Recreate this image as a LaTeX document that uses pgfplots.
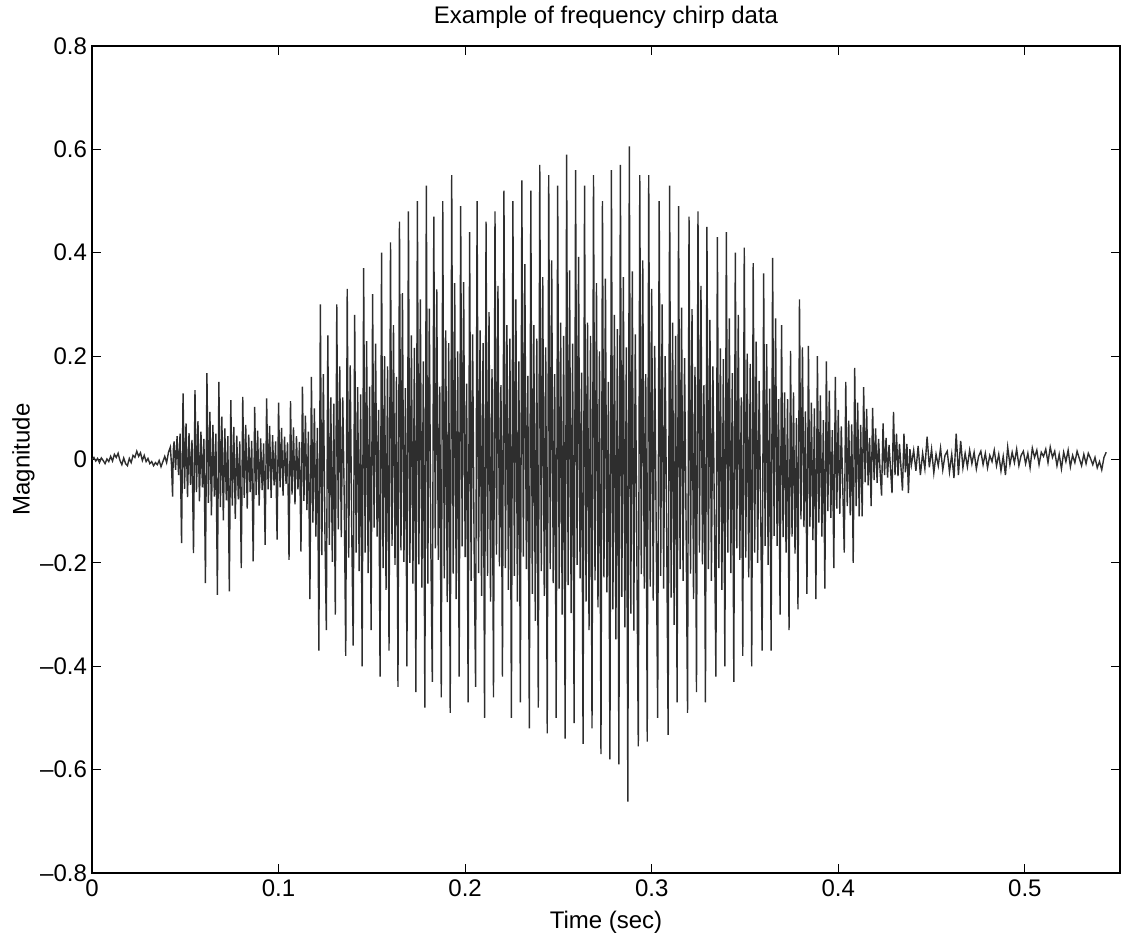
\documentclass[border=0pt]{standalone}
\usepackage{fontspec}
\setmainfont{Liberation Sans}
\usepackage{pgfplots}
\pgfplotsset{compat=1.18}
\begin{document}
\begin{tikzpicture}[font=\fontsize{12}{14}\selectfont]
\begin{axis}[
  scale only axis,
  width=514pt, height=413.5pt,
  xmin=0, xmax=0.551, ymin=-0.8, ymax=0.8,
  xtick={0,0.1,0.2,0.3,0.4,0.5},
  xticklabels={0,0.1,0.2,0.3,0.4,0.5},
  ytick={-0.8,-0.6,-0.4,-0.2,0,0.2,0.4,0.6,0.8},
  yticklabels={–0.8,–0.6,–0.4,–0.2,0,0.2,0.4,0.6,0.8},
  tick align=inside,
  major tick length=4.5pt,
  tick style={black, line width=0.6pt},
  axis line style={black, line width=0.8pt},
  xticklabel style={font=\fontsize{12}{14}\selectfont, yshift=0pt},
  yticklabel style={font=\fontsize{12}{14}\selectfont, xshift=1pt},
  xlabel={Time (sec)},
  ylabel={Magnitude},
  xlabel style={font=\fontsize{12}{14}\selectfont, yshift=0pt},
  ylabel style={font=\fontsize{12}{14}\selectfont, yshift=-4pt},
  title={Example of frequency chirp data},
  title style={font=\fontsize{12}{14}\selectfont, yshift=-1pt},
  clip=false,
]
\addplot[line width=0.7pt, color=black!82] coordinates {
(0.000,0.000)(0.001,0.004)(0.002,-0.003)(0.003,0.002)(0.004,-0.006)(0.005,0.003)(0.006,-0.002)(0.007,-0.008)(0.008,0.001)(0.009,-0.004)
(0.010,0.006)(0.011,-0.003)(0.012,0.010)(0.013,0.004)(0.014,0.012)(0.015,-0.002)(0.016,-0.010)(0.017,0.003)(0.018,-0.008)(0.019,-0.012)
(0.020,0.002)(0.021,-0.006)(0.022,0.008)(0.023,0.004)(0.024,0.016)(0.025,0.006)(0.026,0.013)(0.027,-0.002)(0.028,0.008)(0.029,-0.004)
(0.030,0.002)(0.031,-0.008)(0.032,-0.004)(0.033,-0.012)(0.034,-0.006)(0.035,-0.010)(0.036,-0.002)(0.037,-0.014)(0.038,-0.004)(0.039,0.006)
(0.040,-0.006)(0.041,0.014)(0.042,0.024)(0.0426,-0.010)(0.0432,-0.072)(0.0436,0.020)
(0.0440,0.035)(0.0448,-0.020)(0.0456,0.045)(0.0464,-0.030)(0.0472,0.050)(0.0480,-0.162)(0.0488,0.128)(0.0496,-0.057)(0.0504,0.070)(0.0512,-0.073)
(0.0520,0.051)(0.0528,-0.049)(0.0536,0.038)(0.0544,-0.181)(0.0552,0.134)(0.0560,-0.063)(0.0568,0.074)(0.0576,-0.081)(0.0584,0.054)(0.0592,-0.054)
(0.0600,0.040)(0.0608,-0.239)(0.0616,0.167)(0.0624,-0.084)(0.0632,0.092)(0.0640,-0.108)(0.0648,0.067)(0.0656,-0.072)(0.0664,0.050)(0.0672,-0.262)
(0.0680,0.150)(0.0688,-0.092)(0.0696,0.083)(0.0704,-0.118)(0.0712,0.060)(0.0720,-0.079)(0.0728,0.045)(0.0736,-0.255)(0.0744,0.115)(0.0752,-0.089)
(0.0760,0.063)(0.0768,-0.115)(0.0776,0.046)(0.0784,-0.077)(0.0792,0.035)(0.0800,-0.210)(0.0808,0.121)(0.0816,-0.074)(0.0824,0.067)(0.0832,-0.095)
(0.0840,0.048)(0.0848,-0.063)(0.0856,0.036)(0.0864,-0.197)(0.0872,0.102)(0.0880,-0.069)(0.0888,0.056)(0.0896,-0.089)(0.0904,0.041)(0.0912,-0.059)
(0.0920,0.031)(0.0928,-0.165)(0.0936,0.118)(0.0944,-0.058)(0.0952,0.065)(0.0960,-0.074)(0.0968,0.047)(0.0976,-0.050)(0.0984,0.035)(0.0992,-0.155)
(0.1000,0.110)(0.1008,-0.054)(0.1016,0.061)(0.1024,-0.070)(0.1032,0.044)(0.1040,-0.047)(0.1048,0.033)(0.1056,-0.194)(0.1064,0.113)(0.1072,-0.068)
(0.1080,0.062)(0.1088,-0.087)(0.1096,0.045)(0.1104,-0.058)(0.1112,0.034)(0.1120,-0.178)(0.1128,0.141)(0.1136,-0.080)(0.1144,0.085)(0.1152,-0.098)
(0.1160,0.054)(0.1168,-0.270)(0.1176,0.160)(0.1184,-0.122)(0.1192,0.099)(0.1200,-0.149)(0.1208,0.061)(0.1216,-0.370)(0.1224,0.300)(0.1232,-0.185)
(0.1240,0.165)(0.1248,-0.130)(0.1256,-0.330)(0.1264,0.240)(0.1272,-0.165)(0.1280,0.120)(0.1288,-0.198)(0.1296,0.108)(0.1304,-0.300)(0.1312,0.300)
(0.1320,-0.135)(0.1328,0.180)(0.1336,-0.150)(0.1344,0.120)(0.1352,-0.075)(0.1360,-0.380)(0.1368,0.330)(0.1376,-0.190)(0.1384,0.182)(0.1392,-0.133)
(0.1400,-0.360)(0.1408,0.280)(0.1416,-0.180)(0.1424,0.140)(0.1432,-0.216)(0.1440,0.126)(0.1448,-0.400)(0.1456,0.370)(0.1464,-0.180)(0.1472,0.229)
(0.1480,-0.220)(0.1488,0.141)(0.1496,-0.330)(0.1504,0.320)(0.1512,-0.132)(0.1520,0.224)(0.1528,-0.149)(0.1536,0.096)(0.1544,-0.420)(0.1552,0.400)
(0.1560,-0.210)(0.1568,0.200)(0.1576,-0.252)(0.1584,0.180)(0.1592,-0.370)(0.1600,0.420)(0.1608,-0.167)(0.1616,0.260)(0.1624,-0.204)(0.1632,0.160)
(0.1640,-0.440)(0.1648,0.460)(0.1656,-0.176)(0.1664,0.322)(0.1672,-0.198)(0.1680,0.138)(0.1688,-0.400)(0.1696,0.480)(0.1704,-0.200)(0.1712,0.240)
(0.1720,-0.240)(0.1728,0.216)(0.1736,-0.450)(0.1744,0.500)(0.1752,-0.203)(0.1760,0.310)(0.1768,-0.248)(0.1776,0.190)(0.1784,-0.480)(0.1792,0.530)
(0.1800,-0.240)(0.1808,0.292)(0.1816,-0.168)(0.1824,-0.430)(0.1832,0.470)(0.1840,-0.172)(0.1848,0.329)(0.1856,-0.194)(0.1864,0.141)(0.1872,-0.460)
(0.1880,0.500)(0.1888,-0.230)(0.1896,0.250)(0.1904,-0.276)(0.1912,0.225)(0.1920,-0.490)(0.1928,0.550)(0.1936,-0.221)(0.1944,0.341)(0.1952,-0.270)
(0.1960,0.209)(0.1968,-0.420)(0.1976,0.490)(0.1984,-0.168)(0.1992,0.343)(0.2000,-0.189)(0.2008,0.147)(0.2016,-0.470)(0.2024,0.440)(0.2032,-0.235)
(0.2040,0.242)(0.2048,-0.165)(0.2056,-0.440)(0.2064,0.500)(0.2072,-0.220)(0.2080,0.250)(0.2088,-0.264)(0.2096,0.225)(0.2104,-0.500)(0.2112,0.460)
(0.2120,-0.225)(0.2128,0.285)(0.2136,-0.275)(0.2144,0.175)(0.2152,-0.460)(0.2160,0.480)(0.2168,-0.184)(0.2176,0.336)(0.2184,-0.207)(0.2192,0.144)
(0.2200,-0.420)(0.2208,0.520)(0.2216,-0.210)(0.2224,0.260)(0.2232,-0.252)(0.2240,0.234)(0.2248,-0.500)(0.2256,0.500)(0.2264,-0.225)(0.2272,0.310)
(0.2280,-0.275)(0.2288,0.190)(0.2296,-0.470)(0.2304,0.540)(0.2312,-0.188)(0.2320,0.378)(0.2328,-0.212)(0.2336,0.162)(0.2344,-0.520)(0.2352,0.520)
(0.2360,-0.260)(0.2368,0.260)(0.2376,-0.312)(0.2384,0.234)(0.2392,-0.480)(0.2400,0.570)(0.2408,-0.216)(0.2416,0.353)(0.2424,-0.264)(0.2432,0.217)
(0.2440,-0.530)(0.2448,0.550)(0.2456,-0.212)(0.2464,0.385)(0.2472,-0.239)(0.2480,0.165)(0.2488,-0.500)(0.2496,0.530)(0.2504,-0.250)(0.2512,0.265)
(0.2520,-0.300)(0.2528,0.239)(0.2536,-0.540)(0.2544,0.590)(0.2552,-0.243)(0.2560,0.366)(0.2568,-0.297)(0.2576,0.224)(0.2584,-0.510)(0.2592,0.560)
(0.2600,-0.204)(0.2608,0.392)(0.2616,-0.230)(0.2624,0.168)(0.2632,-0.550)(0.2640,0.530)(0.2648,-0.275)(0.2656,0.265)(0.2664,-0.330)(0.2672,0.239)
(0.2680,-0.520)(0.2688,0.550)(0.2696,-0.234)(0.2704,0.341)(0.2712,-0.286)(0.2720,0.209)(0.2728,-0.570)(0.2736,0.500)(0.2744,-0.228)(0.2752,0.350)
(0.2760,-0.257)(0.2768,0.150)(0.2776,-0.580)(0.2784,0.560)(0.2792,-0.290)(0.2800,0.280)(0.2808,-0.348)(0.2816,0.252)(0.2824,-0.590)(0.2832,0.570)
(0.2840,-0.266)(0.2848,0.353)(0.2856,-0.325)(0.2864,0.217)(0.2872,-0.662)(0.2880,0.606)(0.2888,-0.298)(0.2896,0.364)(0.2904,-0.331)(0.2912,0.242)
(0.2920,-0.166)(0.2928,-0.555)(0.2936,0.550)(0.2944,-0.222)(0.2952,0.385)(0.2960,-0.250)(0.2968,0.165)(0.2976,-0.546)(0.2984,0.550)(0.2992,-0.246)
(0.3000,0.330)(0.3008,-0.273)(0.3016,0.220)(0.3024,-0.137)(0.3032,-0.500)(0.3040,0.500)(0.3048,-0.225)(0.3056,0.300)(0.3064,-0.250)(0.3072,0.200)
(0.3080,-0.125)(0.3088,-0.533)(0.3096,0.530)(0.3104,-0.267)(0.3112,0.265)(0.3120,-0.320)(0.3128,0.239)(0.3136,-0.470)(0.3144,0.490)(0.3152,-0.212)
(0.3160,0.294)(0.3168,-0.235)(0.3176,0.196)(0.3184,-0.118)(0.3192,-0.490)(0.3200,0.470)(0.3208,-0.221)(0.3216,0.291)(0.3224,-0.270)(0.3232,0.179)
(0.3240,-0.450)(0.3248,0.480)(0.3256,-0.180)(0.3264,0.336)(0.3272,-0.203)(0.3280,0.144)(0.3288,-0.470)(0.3296,0.450)(0.3304,-0.212)(0.3312,0.270)
(0.3320,-0.235)(0.3328,0.180)(0.3336,-0.118)(0.3344,-0.420)(0.3352,0.430)(0.3360,-0.210)(0.3368,0.215)(0.3376,-0.252)(0.3384,0.194)(0.3392,-0.400)
(0.3400,0.440)(0.3408,-0.180)(0.3416,0.273)(0.3424,-0.220)(0.3432,0.167)(0.3440,-0.430)(0.3448,0.400)(0.3456,-0.172)(0.3464,0.280)(0.3472,-0.194)
(0.3480,0.120)(0.3488,-0.380)(0.3496,0.410)(0.3504,-0.190)(0.3512,0.205)(0.3520,-0.228)(0.3528,0.185)(0.3536,-0.400)(0.3544,0.380)(0.3552,-0.180)
(0.3560,0.228)(0.3568,-0.200)(0.3576,0.152)(0.3584,-0.100)(0.3592,-0.370)(0.3600,0.360)(0.3608,-0.167)(0.3616,0.223)(0.3624,-0.204)(0.3632,0.137)
(0.3640,-0.370)(0.3648,0.390)(0.3656,-0.148)(0.3664,0.273)(0.3672,-0.167)(0.3680,0.117)(0.3688,-0.300)(0.3696,0.260)(0.3704,-0.150)(0.3712,0.130)
(0.3720,-0.180)(0.3728,0.117)(0.3736,-0.330)(0.3744,0.210)(0.3752,-0.149)(0.3760,0.130)(0.3768,-0.182)(0.3776,0.080)(0.3784,-0.290)(0.3792,0.310)
(0.3800,-0.116)(0.3808,0.217)(0.3816,-0.131)(0.3824,0.093)(0.3832,-0.260)(0.3840,0.220)(0.3848,-0.130)(0.3856,0.110)(0.3864,-0.156)(0.3872,0.099)
(0.3880,-0.270)(0.3888,0.200)(0.3896,-0.122)(0.3904,0.124)(0.3912,-0.149)(0.3920,0.076)(0.3928,-0.250)(0.3936,0.190)(0.3944,-0.100)(0.3952,0.133)
(0.3960,-0.113)(0.3968,0.057)(0.3976,-0.210)(0.3984,0.160)(0.3992,-0.095)(0.4000,0.096)(0.4008,-0.105)(0.4016,0.064)(0.4024,-0.053)(0.4032,-0.180)
(0.4040,0.150)(0.4048,-0.090)(0.4056,0.075)(0.4064,-0.108)(0.4072,0.068)(0.4080,-0.200)(0.4088,0.177)(0.4096,-0.090)(0.4104,0.110)(0.4112,-0.110)
(0.4120,0.067)(0.4128,-0.110)(0.4136,0.140)(0.4144,-0.044)(0.4152,0.098)(0.4160,-0.050)(0.4168,0.042)(0.4176,-0.090)(0.4184,0.100)(0.4192,-0.040)
(0.4200,0.060)(0.4208,-0.045)(0.4216,0.040)(0.4224,-0.022)(0.4232,-0.070)(0.4240,0.070)(0.4248,-0.030)(0.4256,0.042)(0.4264,-0.035)(0.4272,0.028)
(0.4280,-0.018)(0.4288,-0.065)(0.4296,0.092)(0.4304,-0.030)(0.4312,0.050)(0.4320,-0.032)(0.4328,0.030)(0.4336,-0.015)(0.4344,-0.060)(0.4352,0.050)
(0.4360,-0.025)(0.4368,0.030)(0.4376,-0.065)(0.4384,0.020)(0.4392,-0.010)
(0.4404,0.018)(0.4416,-0.022)(0.4428,0.026)(0.4440,-0.030)(0.4452,0.012)(0.4464,-0.018)(0.4476,0.044)(0.4488,-0.015)(0.4500,0.020)(0.4512,-0.026)
(0.4524,0.010)(0.4536,-0.012)(0.4548,0.022)(0.4560,-0.020)(0.4572,0.008)(0.4584,0.016)(0.4596,-0.024)(0.4608,0.010)(0.4620,-0.036)(0.4632,0.050)
(0.4644,-0.030)(0.4656,0.036)(0.4668,-0.016)(0.4680,0.012)(0.4692,-0.014)(0.4704,0.018)(0.4716,-0.008)(0.4728,0.014)(0.4740,-0.018)(0.4752,0.006)
(0.4764,0.016)(0.4776,-0.010)(0.4788,0.012)(0.4800,-0.016)(0.4812,0.008)(0.4824,-0.004)(0.4836,0.018)(0.4848,-0.012)(0.4860,0.010)(0.4872,-0.022)
(0.4884,0.006)(0.4896,-0.030)(0.4908,0.024)(0.4920,-0.010)(0.4932,0.014)(0.4944,-0.006)(0.4956,0.020)(0.4968,-0.012)(0.4980,0.008)(0.4992,0.016)
(0.5004,-0.008)(0.5016,0.012)(0.5028,-0.016)(0.5040,0.022)(0.5052,0.004)(0.5064,0.018)(0.5076,-0.010)(0.5088,0.014)(0.5100,0.006)(0.5112,0.020)
(0.5124,-0.006)(0.5136,0.024)(0.5148,0.004)(0.5160,0.016)(0.5172,-0.012)(0.5184,0.010)(0.5196,-0.018)(0.5208,0.014)(0.5220,-0.004)(0.5232,0.018)
(0.5244,-0.014)(0.5256,0.008)(0.5268,-0.006)(0.5280,0.016)(0.5292,0.002)(0.5304,-0.012)(0.5316,0.010)(0.5328,-0.008)(0.5340,0.012)(0.5352,0.002)
(0.5364,-0.010)(0.5376,0.004)(0.5388,-0.016)(0.5400,-0.004)(0.5412,-0.020)(0.5424,0.004)(0.5436,0.014)
};
\end{axis}
\pgfresetboundingbox
\useasboundingbox ([xshift=-46pt,yshift=-31.5pt]current axis.south west) rectangle ([xshift=6pt,yshift=23pt]current axis.north east);
\end{tikzpicture}
\end{document}
